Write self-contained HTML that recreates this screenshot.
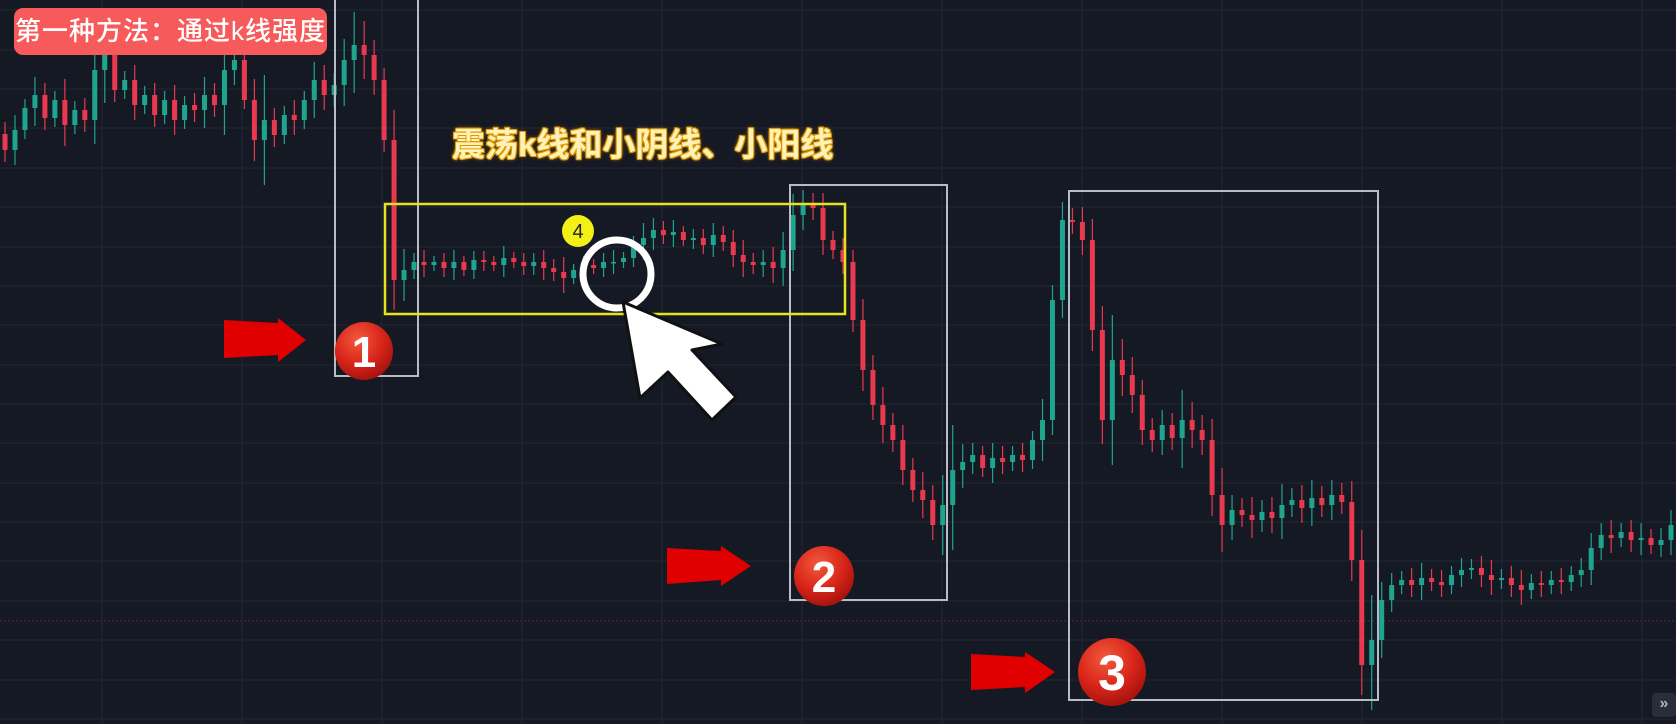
<!DOCTYPE html>
<html><head><meta charset="utf-8">
<style>
html,body{margin:0;padding:0;background:#151924;}
#wrap{position:relative;width:1676px;height:724px;overflow:hidden;background:#151924;}
svg{position:absolute;left:0;top:0;}
.lbl{position:absolute;left:14px;top:8px;width:313px;height:47px;background:#f65a5a;border-radius:9px;color:#fff;font:500 26px "Liberation Sans","Noto Sans CJK SC",sans-serif;line-height:47px;text-align:center;letter-spacing:1px;}
.note{position:absolute;left:452px;top:118px;font:bold 33px "Liberation Sans","Noto Sans CJK SC",sans-serif;color:#fff2b8;white-space:nowrap;
text-shadow:0 0 2px #e09a00,1px 1px 0 #e09a00,-1px -1px 0 #e09a00,1px -1px 0 #e09a00,-1px 1px 0 #e09a00,0 0 5px #b07000;}
.btn{position:absolute;left:1652px;top:693px;width:24px;height:24px;background:#2a2e39;border-radius:4px;color:#b2b5be;font:bold 16px "Liberation Sans",sans-serif;text-align:center;line-height:22px;}
</style></head>
<body>
<div id="wrap">
<svg id="chart" width="1676" height="724"></svg>
<div class="lbl">第一种方法：通过k线强度</div>
<div class="note">震荡k线和小阴线、小阳线</div>
<div class="btn">»</div>
</div>
<script>
const closes = [574,594,616,629,606,624,599,614,604,654,669,634,644,619,629,609,624,604,619,614,629,619,654,664,624,584,604,589,609,604,624,644,629,639,664,679,669,644,584,444,454,462,459,462,456,462,454,464,462,459,466,462,458,462,456,452,446,454,459,456,462,462,466,479,486,494,489,492,484,486,479,489,482,469,462,459,462,456,474,509,519,516,484,474,462,404,354,319,299,284,254,234,224,199,219,254,262,269,256,266,262,269,264,284,304,424,504,502,484,394,304,364,349,329,294,284,299,286,304,294,284,229,199,214,209,204,212,206,219,224,216,226,219,229,222,164,59,84,124,139,144,139,146,142,139,149,154,156,149,144,146,139,134,141,139,144,142,149,154,176,189,186,192,184,186,179,184,199];
const wicks = [12,15,9,18,12,9,21,9,12,24,33,12,9,15,9,12,9,15,9,12,18,12,30,15,9,21,45,12,9,15,9,18,15,12,21,33,24,15,12,30,21,9,12,6,9,12,6,9,9,6,12,6,9,9,12,9,15,6,9,6,9,12,6,9,15,12,9,12,6,9,9,12,9,12,15,9,12,15,18,21,15,12,15,9,12,12,21,15,18,12,15,12,18,15,30,45,18,12,9,15,12,9,12,9,21,15,18,12,15,21,24,45,21,18,15,12,15,12,30,18,15,21,27,15,12,18,12,15,21,12,15,18,12,15,12,21,30,45,18,12,9,12,15,9,12,9,12,9,12,15,9,12,15,9,12,9,12,9,12,15,12,15,9,12,15,9,12,15];
const firstOpen = 590;
const gridYs = [10,50,89,128,168,207,247,286,325,365,404,443,483,522,561,601,640,680,719];
const gridXs = [102,242,382,522,662,802,942,1082,1222,1362,1502,1642];

const W = 1676, H = 724;
const svg = document.getElementById('chart');
const NS = 'http://www.w3.org/2000/svg';
function yScale(p){ return H - p; }
function xScale(i){ return 5 + i * (W - 10) / (closes.length - 1); }
function mk(tag, attrs){ const e = document.createElementNS(NS, tag); for (const k in attrs) e.setAttribute(k, attrs[k]); svg.appendChild(e); return e; }

gridYs.forEach(y => {
  const l = mk('line', {x1:0, x2:W, y1:y, y2:y, stroke:'#222635', 'stroke-width':1});
  
  
});
gridXs.forEach(x => {
  const l = mk('line', {x1:x, x2:x, y1:0, y2:H, stroke:'#222635', 'stroke-width':1});
  
  
});
const pl = mk('line', {x1:0, x2:W, y1:621, y2:621, stroke:'#5a2630', 'stroke-width':1, 'stroke-dasharray':'2 2'});



const n = Math.min(closes.length, wicks.length);
let prev = firstOpen;
const bw = 5;
for (let i = 0; i < n; i++) {
  const o = prev, c = closes[i];
  const up = c >= o;
  const col = up ? '#1fa58e' : '#e8394f';
  const hi = Math.max(o, c) + wicks[i];
  const lo = Math.min(o, c) - wicks[i];
  const x = xScale(i);
  const wl = mk('line', {x1:x, x2:x, y1:yScale(hi), y2:yScale(lo), stroke:col, 'stroke-width':1.2});
  
  
  const top = yScale(Math.max(o, c)), bot = yScale(Math.min(o, c));
  const r = mk('rect', {x:x - bw/2, y:top, width:bw, height:Math.max(1.5, bot - top), fill:col});
  
  
  prev = c;
}
</script>
<svg width="1676" height="724" style="position:absolute;left:0;top:0">
<defs>
<radialGradient id="ball" cx="40%" cy="30%" r="70%">
<stop offset="0" stop-color="#f25a3c"/><stop offset="0.6" stop-color="#d9251a"/><stop offset="1" stop-color="#a8140e"/></radialGradient>
</defs>
<rect x="335" y="-2" width="83" height="378" fill="none" stroke="#b8bcc6" stroke-width="2"/>
<rect x="790" y="185" width="157" height="415" fill="none" stroke="#b8bcc6" stroke-width="2"/>
<rect x="1069" y="191" width="309" height="509" fill="none" stroke="#b8bcc6" stroke-width="2"/>
<rect x="385" y="204" width="460" height="110" fill="none" stroke="#e6e21e" stroke-width="2.5"/>
<g fill="#e00000">
<polygon points="224,320 278,323 278,318 306,340 278,362 278,355 224,358"/>
<polygon points="667,548 721,551 721,546 751,566 721,586 721,580 667,584"/>
<polygon points="971,654 1025,657 1025,652 1055,672 1025,693 1025,687 971,690"/>
</g>
<g font-family="Liberation Sans, sans-serif" font-weight="bold" fill="#fff" text-anchor="middle">
<circle cx="364" cy="351" r="29" fill="url(#ball)"/>
<text x="364" y="367" font-size="44">1</text>
<circle cx="824" cy="576" r="30" fill="url(#ball)"/>
<text x="824" y="592" font-size="44">2</text>
<circle cx="1112" cy="672" r="34" fill="url(#ball)"/>
<text x="1112" y="690" font-size="50">3</text>
</g>
<circle cx="578" cy="231" r="16" fill="#f4ef16"/>
<text x="578" y="238" font-family="Liberation Sans, sans-serif" font-size="20" fill="#222" text-anchor="middle">4</text>
<circle cx="617" cy="274" r="34" fill="none" stroke="#fff" stroke-width="7"/>
<polygon points="623,302 640,398 668,372 712,420 736,397 692,350 722,344" fill="#fff" stroke="#111" stroke-width="3" stroke-linejoin="round"/>
</svg>
</body></html>
